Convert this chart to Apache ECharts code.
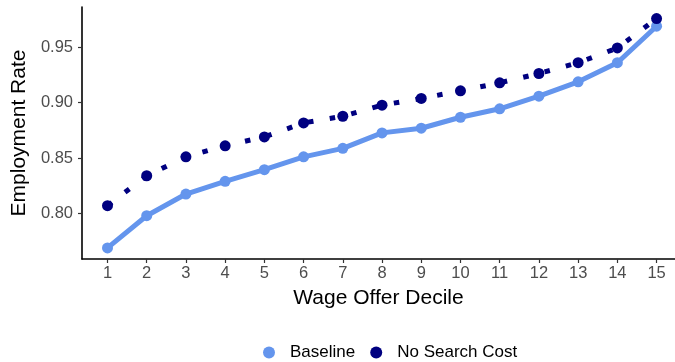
<!DOCTYPE html>
<html>
<head>
<meta charset="utf-8">
<script src="https://cdn.jsdelivr.net/npm/echarts@6/dist/echarts.min.js"></script>
<style>
  html, body { margin: 0; padding: 0; background: #fff; }
  #chart { width: 675px; height: 362px; }
</style>
</head>
<body>
<div id="chart"></div>
<script>
// Employment rate by wage offer decile, two scenarios
const deciles = [1, 2, 3, 4, 5, 6, 7, 8, 9, 10, 11, 12, 13, 14, 15];
const baseline = [0.769, 0.798, 0.8175, 0.829, 0.8395, 0.851, 0.8587, 0.8726, 0.8768, 0.8867,
                  0.8943, 0.9057, 0.9186, 0.9358, 0.9687];
const noSearchCost = [0.807, 0.834, 0.851, 0.861, 0.869, 0.8816, 0.8876, 0.8976, 0.9036, 0.9105,
                      0.9177, 0.9261, 0.9358, 0.9491, 0.9756];
const yTicks = [0.80, 0.85, 0.90, 0.95];
const xTicks = deciles;

const pairs = (ys) => deciles.map((d, i) => [d, ys[i]]);

const FONT = 'Liberation Sans, Arial, sans-serif';
const chart = echarts.init(document.getElementById('chart'), null, { renderer: 'canvas' });
const axisText = { color: '#4d4d4d', fontSize: 16.5, fontFamily: FONT };
const titleText = { color: '#000', fontSize: 21, fontFamily: FONT };

chart.setOption({
  animation: false,
  backgroundColor: '#ffffff',
  grid: { left: 82, right: 0, top: 7, bottom: 103, containLabel: false },
  xAxis: {
    type: 'value',
    min: 0.35, max: 15.47,
    name: 'Wage Offer Decile',
    nameLocation: 'middle',
    nameGap: 29,
    nameTextStyle: titleText,
    axisLine: { show: true, onZero: false, lineStyle: { color: '#000', width: 1.6 } },
    axisTick: { show: true, length: 4, customValues: xTicks, lineStyle: { color: '#333', width: 1.2 } },
    axisLabel: Object.assign({ margin: 6, customValues: xTicks }, axisText),
    splitLine: { show: false }
  },
  yAxis: {
    type: 'value',
    min: 0.759, max: 0.986,
    name: 'Employment Rate',
    nameLocation: 'middle',
    nameGap: 49,
    nameTextStyle: titleText,
    axisLine: { show: true, onZero: false, lineStyle: { color: '#000', width: 1.6 } },
    axisTick: { show: true, length: 4, customValues: yTicks, lineStyle: { color: '#333', width: 1.2 } },
    axisLabel: Object.assign({ margin: 9, customValues: yTicks, formatter: (v) => v.toFixed(2) }, axisText),
    splitLine: { show: false }
  },
  legend: {
    top: 339,
    left: 258,
    icon: 'circle',
    itemWidth: 12, itemHeight: 12, itemGap: 15,
    textStyle: { color: '#000', fontSize: 17, fontFamily: FONT, padding: [0, 0, 0, 10] },
    data: ['Baseline', 'No Search Cost']
  },
  series: [
    {
      name: 'Baseline',
      type: 'line',
      data: pairs(baseline),
      symbol: 'circle', symbolSize: 11,
      itemStyle: { color: '#6495ED' },
      lineStyle: { color: '#6495ED', width: 5 }
    },
    {
      name: 'No Search Cost',
      type: 'line',
      data: pairs(noSearchCost),
      symbol: 'circle', symbolSize: 11,
      itemStyle: { color: '#000080' },
      lineStyle: { color: '#000080', width: 5, type: [5.5, 16.5], cap: 'butt' }
    }
  ]
});
</script>
</body>
</html>
